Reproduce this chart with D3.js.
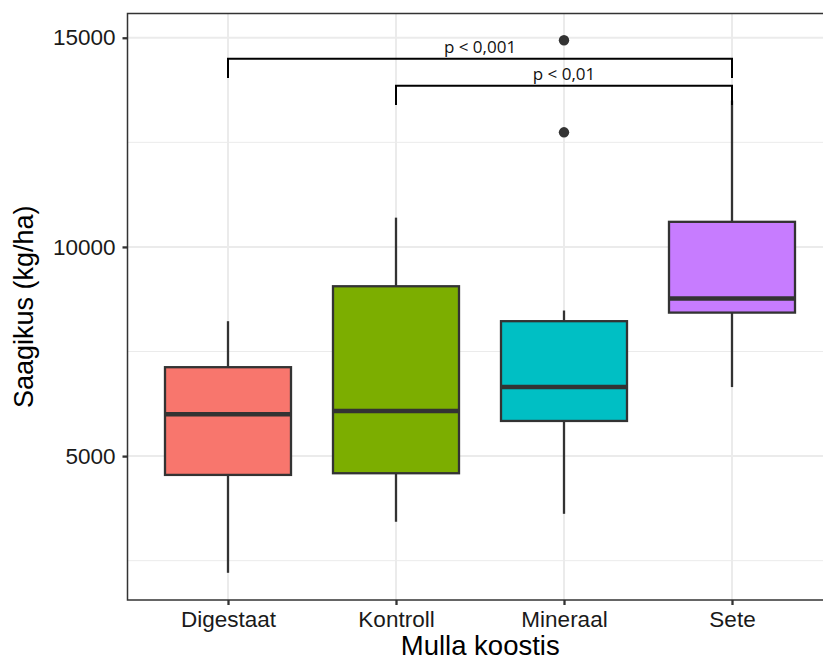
<!DOCTYPE html>
<html>
<head>
<meta charset="utf-8">
<script src="https://cdn.jsdelivr.net/npm/d3@7"></script>
<style>
  body { margin: 0; background: #fff; }
  svg { display: block; }
</style>
</head>
<body>
<script>
// categories and box stats (kg/ha)
const groups = ["Digestaat", "Kontroll", "Mineraal", "Sete"];
const colors = ["#F8766D", "#7CAE00", "#00BFC4", "#C77CFF"];
const whiskerLow = [2210, 3430, 3620, 6650];
const q1 = [4550, 4590, 5840, 8430];
const median = [6000, 6075, 6650, 8770];
const q3 = [7125, 9060, 8225, 10600];
const whiskerHigh = [8225, 10700, 8480, 13500];
const outliers = [["Mineraal", 14940], ["Mineraal", 12740]];

// significance brackets
const brackets = [
  { from: "Digestaat", to: "Sete", y: 14500, label: "p < 0,001" },
  { from: "Kontroll", to: "Sete", y: 13850, label: "p < 0,01" }
];
const yTicks = [5000, 10000, 15000];
const yMinor = [2500, 7500, 12500];

const width = 823, height = 661;
const panel = { left: 127.5, right: 833, top: 13.5, bottom: 600 };

const svg = d3.select("body").append("svg")
    .attr("width", width)
    .attr("height", height)
    .attr("font-family", "'Liberation Sans', Arial, sans-serif");

const x = d3.scalePoint()
    .domain(groups)
    .range([228, 732]);
const step = x.step();
const boxW = step * 0.75;

const y = d3.scaleLinear()
    .domain([1560, 15580])
    .range([panel.bottom, panel.top]);

// grid
const grid = svg.append("g");
grid.selectAll(".minor")
  .data(yMinor)
  .join("line")
    .attr("x1", panel.left).attr("x2", panel.right)
    .attr("y1", d => y(d)).attr("y2", d => y(d))
    .attr("stroke", "#ebebeb").attr("stroke-width", 1);
grid.selectAll(".major")
  .data(yTicks)
  .join("line")
    .attr("x1", panel.left).attr("x2", panel.right)
    .attr("y1", d => y(d)).attr("y2", d => y(d))
    .attr("stroke", "#ebebeb").attr("stroke-width", 2);
grid.selectAll(".vmajor")
  .data(groups)
  .join("line")
    .attr("x1", d => x(d)).attr("x2", d => x(d))
    .attr("y1", panel.top).attr("y2", panel.bottom)
    .attr("stroke", "#ebebeb").attr("stroke-width", 2);

// boxes
const boxes = svg.append("g")
  .selectAll("g")
  .data(groups)
  .join("g");

boxes.append("line")
    .attr("x1", d => x(d)).attr("x2", d => x(d))
    .attr("y1", (d, i) => y(whiskerLow[i])).attr("y2", (d, i) => y(q1[i]))
    .attr("stroke", "#333").attr("stroke-width", 2.3);
boxes.append("line")
    .attr("x1", d => x(d)).attr("x2", d => x(d))
    .attr("y1", (d, i) => y(q3[i])).attr("y2", (d, i) => y(whiskerHigh[i]))
    .attr("stroke", "#333").attr("stroke-width", 2.3);
boxes.append("rect")
    .attr("x", d => x(d) - boxW / 2)
    .attr("width", boxW)
    .attr("y", (d, i) => y(q3[i]))
    .attr("height", (d, i) => y(q1[i]) - y(q3[i]))
    .attr("fill", (d, i) => colors[i])
    .attr("stroke", "#333").attr("stroke-width", 2.3);
boxes.append("line")
    .attr("x1", d => x(d) - boxW / 2).attr("x2", d => x(d) + boxW / 2)
    .attr("y1", (d, i) => y(median[i])).attr("y2", (d, i) => y(median[i]))
    .attr("stroke", "#333").attr("stroke-width", 4.5);

svg.append("g")
  .selectAll("circle")
  .data(outliers)
  .join("circle")
    .attr("cx", d => x(d[0]))
    .attr("cy", d => y(d[1]))
    .attr("r", 5.2)
    .attr("fill", "#333");

// significance brackets
const tickLen = 460; // in data units
const br = svg.append("g")
  .selectAll("g")
  .data(brackets)
  .join("g");
br.append("path")
    .attr("d", d => `M${x(d.from)},${y(d.y - tickLen)}V${y(d.y)}H${x(d.to)}V${y(d.y - tickLen)}`)
    .attr("fill", "none")
    .attr("stroke", "#000")
    .attr("stroke-width", 2);
br.append("text")
    .attr("x", d => (x(d.from) + x(d.to)) / 2)
    .attr("y", d => y(d.y) - 6)
    .attr("text-anchor", "middle")
    .attr("font-family", "'Open Sans', 'Noto Sans', sans-serif")
    .attr("font-size", 17)
    .attr("fill", "#111")
    .text(d => d.label);

// panel border
svg.append("rect")
    .attr("x", panel.left).attr("y", panel.top)
    .attr("width", panel.right - panel.left)
    .attr("height", panel.bottom - panel.top)
    .attr("fill", "none")
    .attr("stroke", "#333").attr("stroke-width", 1.5);

// axes
const yAxis = svg.append("g")
    .attr("transform", `translate(${panel.left},0)`)
    .call(d3.axisLeft(y).tickValues(yTicks).tickSize(5).tickPadding(7).tickFormat(d3.format("d")));
yAxis.select(".domain").remove();
yAxis.selectAll(".tick line").attr("stroke", "#333").attr("stroke-width", 2.3);
yAxis.selectAll(".tick text")
    .attr("font-size", 22.5)
    .attr("font-family", "'Liberation Sans', Arial, sans-serif")
    .attr("fill", "#1a1a1a");

const xAxis = svg.append("g")
    .attr("transform", `translate(0,${panel.bottom})`)
    .call(d3.axisBottom(x).tickSize(5).tickPadding(6));
xAxis.select(".domain").remove();
xAxis.selectAll(".tick line").attr("stroke", "#333").attr("stroke-width", 2.3);
xAxis.selectAll(".tick text")
    .attr("font-size", 22.5)
    .attr("font-family", "'Liberation Sans', Arial, sans-serif")
    .attr("fill", "#1a1a1a");

// axis titles
svg.append("text")
    .attr("x", (panel.left + 833) / 2)
    .attr("y", 655)
    .attr("text-anchor", "middle")
    .attr("font-size", 27.5)
    .attr("fill", "#000")
    .text("Mulla koostis");

svg.append("text")
    .attr("transform", `translate(33,${(panel.top + panel.bottom) / 2}) rotate(-90)`)
    .attr("text-anchor", "middle")
    .attr("font-size", 27)
    .attr("fill", "#000")
    .text("Saagikus (kg/ha)");
</script>
</body>
</html>
